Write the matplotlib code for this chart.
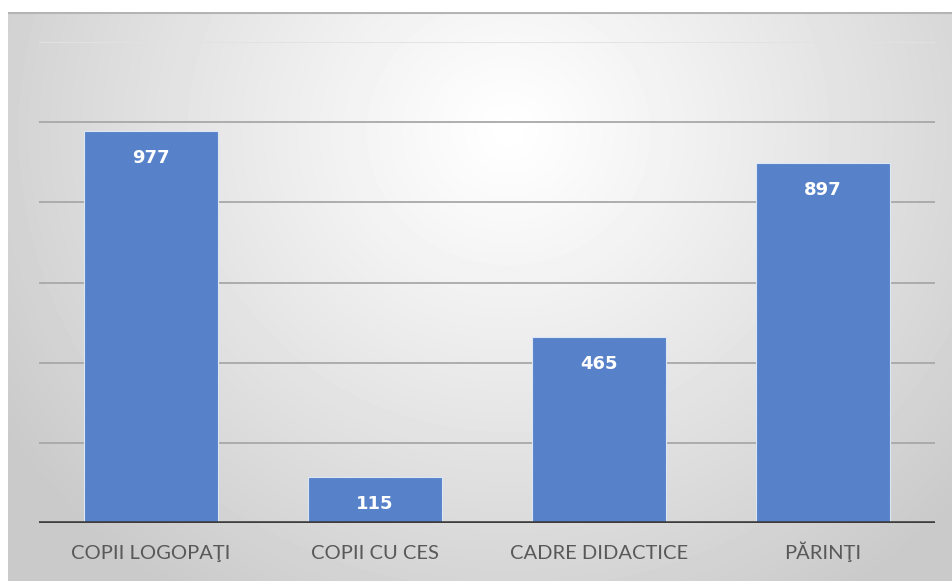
import numpy as np
import matplotlib
matplotlib.use('Agg')
import matplotlib.pyplot as plt

categories = ["COPII LOGOPAŢI", "COPII CU CES", "CADRE DIDACTICE", "PĂRINŢI"]
values = [977, 115, 465, 897]
y_ticks = [0, 200, 400, 600, 800, 1000, 1200]

W, H = 952, 581
fig = plt.figure(figsize=(W / 100, H / 100), dpi=100)
fig.patch.set_facecolor('white')

# radial gray gradient behind the chart
bg = fig.add_axes([8 / W, 0, 1 - 8 / W, (H - 12) / H])
yy, xx = np.mgrid[0:H - 12, 0:W - 8]
cx, cy = 500, 120
d = np.sqrt(((xx - cx) / 600.0) ** 2 + ((yy - cy) / 560.0) ** 2)
shade = 1.0 - 0.21 * np.clip(d, 0, 1) ** 1.1
bg.imshow(shade, cmap='gray', vmin=0, vmax=1, aspect='auto', interpolation='bilinear')
bg.axhline(0, color='#b4b4b4', lw=1.5)
bg.set_axis_off()

ax = fig.add_axes([39 / W, (H - 523) / H, (935 - 39) / W, (523 - 42) / H])
ax.patch.set_alpha(0)

x = np.arange(len(categories))
bars = ax.bar(x, values, width=0.595, color='#5781c9', edgecolor='#dbe6f7', linewidth=0.8, zorder=3)

for b, v in zip(bars, values):
    ax.annotate(str(v), (b.get_x() + b.get_width() / 2, v), xytext=(0, -27),
                textcoords='offset pixels',
                ha='center', va='center', color='white', fontsize=13,
                fontweight='bold', family='DejaVu Sans', zorder=4)

ax.set_xlim(-0.5, 3.5)
ax.set_ylim(0, 1200)
for t in y_ticks[1:-1]:
    ax.axhline(t, color='#a8a8a8', lw=1.3, zorder=1)
ax.axhline(1200, color='#e2e2e2', lw=1.3, zorder=1)
ax.axhline(0, color='#3d3d3d', lw=2.6, zorder=5)

for s in ax.spines.values():
    s.set_visible(False)
ax.set_yticks([])
ax.set_xticks(x)
ax.set_xticklabels(categories, fontsize=14.5, color='#595959', family='Lato', va='baseline')
ax.tick_params(axis='x', length=0, pad=26)

fig.savefig('out.png', dpi=100)
